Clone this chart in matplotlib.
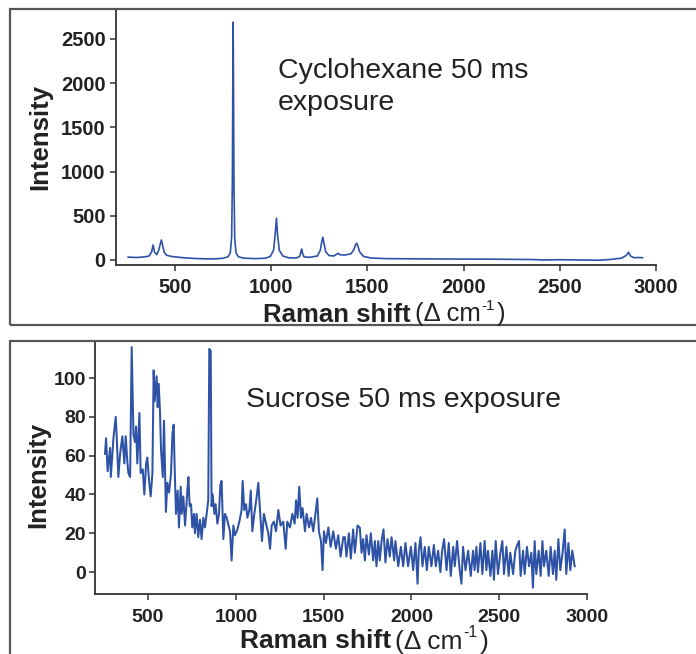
import matplotlib
matplotlib.use("Agg")
import matplotlib.pyplot as plt
from matplotlib.patches import Rectangle

plt.rcParams['font.family'] = ['Liberation Sans', 'DejaVu Sans']

# ---------------- data: cyclohexane (top) ----------------
cyc_shift = [256, 300, 340, 365, 378, 386, 393, 405, 415, 423, 429, 435, 443, 455, 480,
             520, 560, 620, 680, 720, 750, 775, 787, 794, 798, 800, 802, 804, 806, 810,
             817, 830, 860, 920, 970, 995, 1012, 1020, 1027, 1033, 1042, 1060, 1090,
             1130, 1148, 1154, 1158, 1162, 1170, 1200, 1240, 1255, 1262, 1268, 1274,
             1283, 1300, 1325, 1340, 1348, 1356, 1380, 1415, 1430, 1438, 1444, 1450,
             1460, 1480, 1520, 1600, 1800, 2000, 2200, 2350, 2420, 2500, 2600, 2700,
             2760, 2820, 2845, 2857, 2868, 2885, 2910, 2930]
cyc_int = [32, 28, 34, 45, 90, 170, 90, 60, 110, 180, 226, 170, 90, 55, 40,
           30, 22, 15, 12, 14, 20, 35, 80, 250, 900, 1900, 2690, 1900, 900, 250,
           80, 35, 20, 15, 20, 40, 110, 280, 472, 280, 110, 45, 25,
           22, 40, 90, 124, 80, 35, 30, 45, 110, 200, 257, 190,
           95, 50, 45, 65, 75, 60, 55, 70, 120, 170, 189, 160,
           90, 40, 22, 15, 12, 10, 8, 5, 0, 3, 0, -3,
           5, 20, 50, 87, 45, 25, 28, 25]

# ---------------- data: sucrose (bottom) ----------------
suc_shift = [255, 261, 270, 284, 288, 303, 316, 322, 331, 341, 354, 365, 373, 382, 388,
             398, 407, 417, 426, 432, 439, 451, 458, 470, 479, 489, 496, 506, 515, 525,
             532, 538, 544, 549, 555, 561, 568, 574, 584, 591, 597, 602, 610, 620, 631,
             639, 646, 652, 659, 669, 676, 686, 692, 701, 711, 724, 730, 737, 745, 752,
             762, 767, 777, 786, 796, 805, 815, 824, 834, 843, 849, 857, 862, 868, 878,
             885, 895, 904, 912, 919, 929, 938, 948, 967, 976, 986, 995, 1009, 1020, 1033,
             1039, 1048, 1058, 1066, 1077, 1085, 1094, 1104, 1119, 1128, 1138, 1149, 1160,
             1172, 1185, 1195, 1204, 1217, 1229, 1242, 1255, 1270, 1284, 1293, 1308, 1322,
             1335, 1343, 1352, 1361, 1371, 1380, 1394, 1403, 1417, 1428, 1441, 1456, 1464,
             1473, 1485, 1494, 1502, 1513, 1527, 1540, 1555, 1570, 1583, 1597, 1612,
             1621, 1630, 1644, 1655, 1668, 1678, 1693, 1706, 1716, 1725, 1735, 1744, 1758,
             1769, 1782, 1792, 1801, 1811, 1820, 1830, 1841, 1852, 1864, 1877, 1887, 1902,
             1909, 1925, 1940, 1953, 1966, 1981, 1997, 2010, 2023, 2035, 2042, 2052, 2063,
             2076, 2088, 2099, 2114, 2128, 2139, 2152, 2165, 2175, 2186, 2200, 2213, 2224,
             2238, 2247, 2260, 2275, 2285, 2294, 2308, 2323, 2338, 2351, 2360, 2370, 2379,
             2393, 2404, 2417, 2427, 2436, 2450, 2461, 2470, 2480, 2493, 2507, 2518, 2527,
             2541, 2554, 2563, 2579, 2592, 2603, 2613, 2622, 2636, 2645, 2658, 2670, 2683,
             2692, 2702, 2711, 2725, 2736, 2746, 2755, 2768, 2782, 2793, 2806, 2816, 2825,
             2837, 2848, 2861, 2873, 2882, 2894, 2905, 2916, 2930]
suc_int = [61, 69, 52, 64, 49, 69, 80, 69, 49, 61, 70, 56, 70, 57, 51,
           49, 116, 71, 67, 75, 56, 82, 51, 53, 40, 56, 59, 47, 39, 51,
           104, 88, 95, 101, 85, 97, 83, 63, 49, 78, 53, 31, 46, 41, 51,
           71, 76, 53, 30, 42, 23, 44, 30, 39, 24, 42, 49, 34, 35, 23,
           30, 20, 30, 18, 27, 17, 28, 23, 30, 37, 115, 114, 34, 40, 30,
           35, 25, 30, 45, 47, 17, 30, 28, 21, 6, 24, 19, 22, 26, 32,
           47, 32, 35, 28, 32, 42, 21, 29, 39, 46, 32, 16, 30,
           25, 20, 12, 24, 26, 21, 32, 24, 26, 12, 26, 23, 30,
           25, 37, 28, 44, 28, 33, 21, 30, 23, 28, 21, 32, 38,
           21, 16, 1, 21, 15, 23, 13, 21, 12, 19, 8, 18,
           18, 8, 20, 7, 22, 10, 24, 23, 10, 17, 6, 19, 9,
           20, 6, 16, 3, 16, 6, 16, 22, 5, 17, 8, 18, 6,
           16, 3, 13, 3, 15, 3, 13, 1, 15, -6, 11, 18, 3,
           13, 1, 13, 3, 14, 3, 11, 0, 11, 17, 1, 15, -2,
           13, 3, 16, 1, -6, 13, 1, 11, -2, 11, 1, 13, 0,
           15, -1, 16, 1, 11, -2, 11, -4, 16, -1, 10, 16, -1,
           13, -2, 10, -1, 11, 14, 16, -2, 11, -1, 13, 3, 10,
           -8, 16, -1, 11, -2, 16, 3, 11, -2, 13, -1, 11, -4,
           17, 1, 10, 22, -1, 15, 1, 11, 3]

top_text = ["Cyclohexane 50 ms", "exposure"]
bottom_text = "Sucrose 50 ms exposure"
y_label = "Intensity"
x_label_bold = "Raman shift"
x_label_unit = ["(\u0394 cm", "-1", ")"]
cyc_yticks = [0, 500, 1000, 1500, 2000, 2500]
suc_yticks = [0, 20, 40, 60, 80, 100]
xticks = [500, 1000, 1500, 2000, 2500, 3000]

LINE = '#2E52A6'
TXT = '#222222'
W, H = 696, 654

fig = plt.figure(figsize=(6.96, 6.54), dpi=100)
renderer = fig.canvas.get_renderer()

def fx(px):
    return px / W

def fy(py):
    return (H - py) / H

# panel frames
fig.patches.append(Rectangle((fx(10), fy(325)), 1.2, fy(9) - fy(325),
                             transform=fig.transFigure, fill=False,
                             edgecolor='#555555', linewidth=1.6))
fig.patches.append(Rectangle((fx(10), -0.2), 1.2, fy(341) + 0.2,
                             transform=fig.transFigure, fill=False,
                             edgecolor='#555555', linewidth=1.6))

def style(ax, fs):
    for s in ['top', 'right']:
        ax.spines[s].set_visible(False)
    for s in ['left', 'bottom']:
        ax.spines[s].set_color('#333333')
        ax.spines[s].set_linewidth(1.3)
    ax.tick_params(direction='out', length=4.5, width=1.1, color='#333333',
                   labelsize=fs, labelcolor=TXT)
    for lab in ax.get_xticklabels() + ax.get_yticklabels():
        lab.set_fontweight('bold')

# top axes
ax1 = fig.add_axes([fx(116), fy(265), fx(656) - fx(116), fy(10) - fy(265)])
ax1.plot(cyc_shift, cyc_int, color=LINE, lw=1.2)
ax1.set_xlim(193, 3000)
ax1.set_ylim(-57, 2828)
ax1.set_xticks(xticks)
ax1.set_yticks(cyc_yticks)
style(ax1, 14.5)
ax1.tick_params(axis='x', pad=5)
ax1.tick_params(axis='y', pad=3)

# bottom axes
ax2 = fig.add_axes([fx(95), fy(594), fx(587) - fx(95), fy(342) - fy(594)])
ax2.plot(suc_shift, suc_int, color=LINE, lw=1.45)
ax2.set_xlim(198, 3000)
ax2.set_ylim(-11.3, 118.6)
ax2.set_xticks(xticks)
ax2.set_yticks(suc_yticks)
style(ax2, 14)
ax2.tick_params(axis='x', pad=6)
ax2.tick_params(axis='y', pad=2)

# annotations
fig.text(fx(278), fy(78), top_text[0], fontsize=20.5, color=TXT, va='baseline', ha='left')
fig.text(fx(278), fy(110), top_text[1], fontsize=20.5, color=TXT, va='baseline', ha='left')
fig.text(fx(246), fy(407), bottom_text, fontsize=20.5, color=TXT, va='baseline', ha='left')

# axis labels
fig.text(fx(40), fy(137), y_label, rotation=90, fontsize=18.5, fontweight='bold',
         color=TXT, ha='center', va='center')
fig.text(fx(38), fy(475), y_label, rotation=90, fontsize=18.5, fontweight='bold',
         color=TXT, ha='center', va='center')

def xlabel_at(px, py, fs):
    t = fig.text(fx(px), fy(py), x_label_bold, fontsize=fs, fontweight='bold',
                 color=TXT, ha='left', va='baseline')
    x = t.get_window_extent(renderer).x1 + 4
    t2 = fig.text(fx(x), fy(py), x_label_unit[0], fontsize=fs, color=TXT,
                  ha='left', va='baseline')
    x = t2.get_window_extent(renderer).x1 + 1
    t3 = fig.text(fx(x), fy(py - 0.45 * fs * 100 / 72), x_label_unit[1],
                  fontsize=fs * 0.6, color=TXT, ha='left', va='baseline')
    x = t3.get_window_extent(renderer).x1 + 2
    fig.text(fx(x), fy(py), x_label_unit[2], fontsize=fs, color=TXT,
             ha='left', va='baseline')

xlabel_at(263, 321.5, 18.5)
xlabel_at(240, 648.5, 19)

fig.savefig('out.png', dpi=100)
